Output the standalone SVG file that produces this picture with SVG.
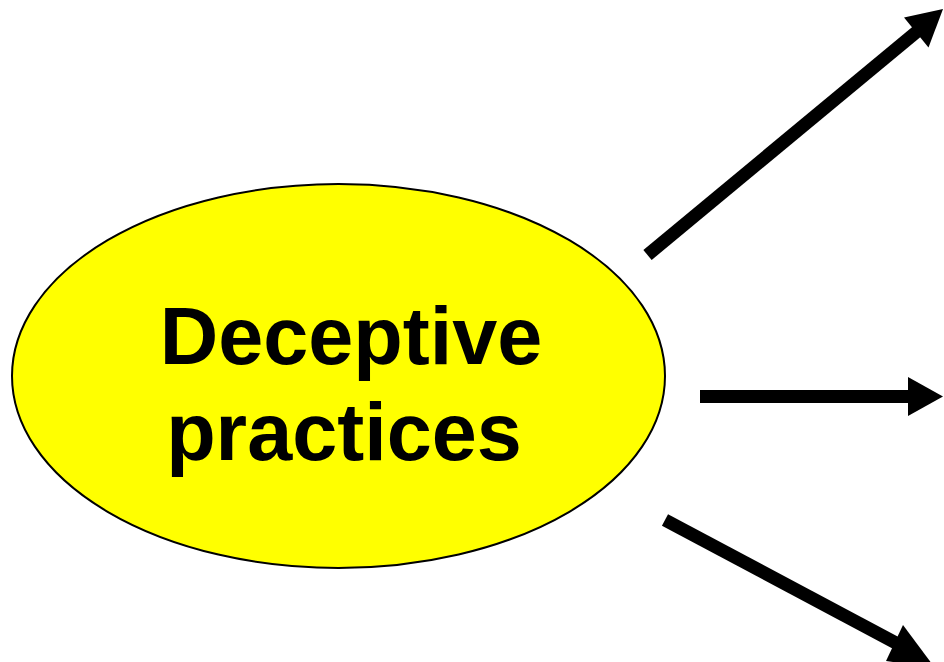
<svg xmlns="http://www.w3.org/2000/svg" width="944" height="662" viewBox="0 0 944 662">
  <style>
    .bubble { fill: #ffff00; stroke: #000000; stroke-width: 2; }
    .label { font-family: "Liberation Sans", Arial, sans-serif; font-weight: bold; font-size: 81px; fill: #000000; text-anchor: middle; }
    .shaft { stroke: #000000; stroke-width: 13; stroke-linecap: butt; fill: none; }
    .head { fill: #000000; stroke: none; }
  </style>
  <rect width="944" height="662" fill="#ffffff"/>

  <g id="node-deceptive-practices">
    <ellipse class="bubble" cx="338.5" cy="376" rx="326.5" ry="192"/>
    <text class="label" x="351" y="364">Deceptive</text>
    <text class="label" x="344" y="460">practices</text>
  </g>

  <g id="connectors">
    <!-- upper-right arrow -->
    <line class="shaft" x1="647.5" y1="255" x2="917" y2="31.5"/>
    <polygon class="head" points="943,9 928.5,47.5 904,17.5"/>
    <!-- horizontal arrow -->
    <line class="shaft" x1="700" y1="396.5" x2="909" y2="396.5"/>
    <polygon class="head" points="908,377 943,396.5 908,416"/>
    <!-- lower-right arrow -->
    <line class="shaft" x1="665" y1="520" x2="896" y2="643"/>
    <polygon class="head" points="903,625 935,668 886,661"/>
  </g>
</svg>
